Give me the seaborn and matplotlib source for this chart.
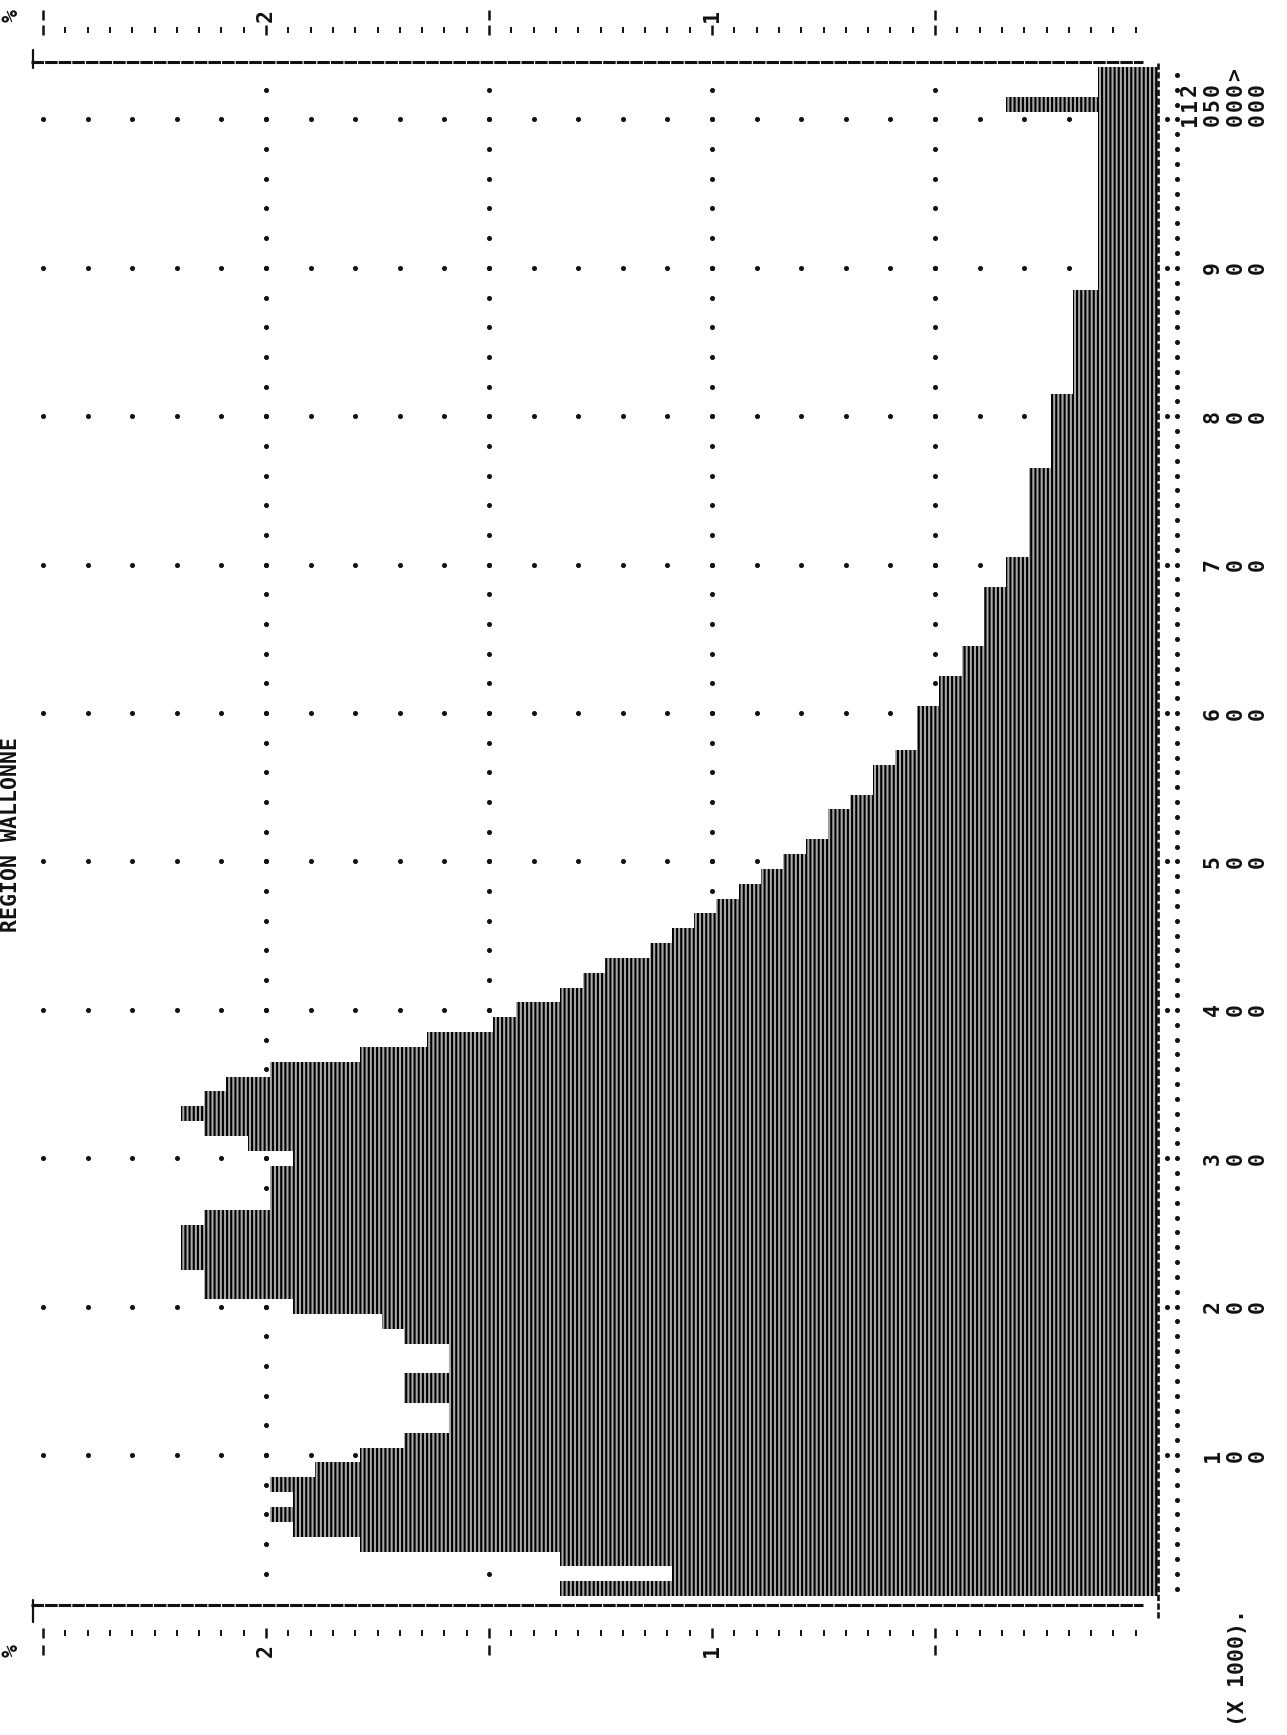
#!/usr/bin/env python3
"""
Line-printer style income histogram (Region Wallonne), rotated page.
Rows are income classes (x 1000), bars give the share in %.
"""

import numpy as np
import pandas as pd
import matplotlib
matplotlib.use("Agg")
import matplotlib.pyplot as plt
import seaborn as sns

# income classes, one printer line each (x 1000)
classes = [str(lo) for lo in range(0, 1000, 10)] + ["1000-1500", "1500-2000", ">2000"]

# share of each class in %
pct = [
    1.34, 1.09, 1.34, 1.79, 1.94, 1.99, 1.94, 1.99, 1.89, 1.79,   # 0-90
    1.69, 1.59, 1.59, 1.69, 1.69, 1.59, 1.59, 1.69, 1.74, 1.94,   # 100-190
    2.14, 2.14, 2.19, 2.19, 2.19, 2.14, 1.99, 1.99, 1.99, 1.94,   # 200-290
    2.04, 2.14, 2.19, 2.14, 2.09, 1.99, 1.79, 1.64, 1.49, 1.44,   # 300-390
    1.34, 1.29, 1.24, 1.14, 1.09, 1.04, 0.99, 0.94, 0.89, 0.84,   # 400-490
    0.79, 0.74, 0.74, 0.69, 0.64, 0.64, 0.59, 0.54, 0.54, 0.54,   # 500-590
    0.49, 0.49, 0.44, 0.44, 0.39, 0.39, 0.39, 0.39, 0.34, 0.34,   # 600-690
    0.29, 0.29, 0.29, 0.29, 0.29, 0.29, 0.24, 0.24, 0.24, 0.24,   # 700-790
    0.24, 0.19, 0.19, 0.19, 0.19, 0.19, 0.19, 0.19, 0.135, 0.135, # 800-890
    0.135, 0.135, 0.135, 0.135, 0.135, 0.135, 0.135, 0.135, 0.135, 0.135,  # 900-990
    0.34, 0.135, 0.135,                                            # 1000-1500, 1500-2000, >2000
]

# income axis labels and the printer line they sit on
income_ticks = [9, 19, 29, 39, 49, 59, 69, 79, 89, 99, 100, 101, 102]
income_labels = ["100", "200", "300", "400", "500", "600", "700", "800", "900",
                 "1000", "1500", "2000", "> "]   # trailing blank keeps ">" one column left

# percent axis
pct_major = [2.5, 2.0, 1.5, 1.0, 0.5]
pct_major_labels = ["%", "2", "|", "1", "|"]

title = "REGION WALLONNE"
unit_note = "(X 1000)."

# page geometry in pixels
W, H = 1287, 1735
X0_PX, PX_PER_PCT = 1158, 446.0       # 0 % position, px per %
Y0_PX, PX_PER_ROW = 1588.6, 14.84     # centre of first line, px per line


def dx(px):
    return (X0_PX - px) / PX_PER_PCT


def dy(py):
    return (Y0_PX - py) / PX_PER_ROW


sns.set_style("white")
plt.rcParams["font.family"] = ["DejaVu Sans Mono", "DejaVu Sans"]
plt.rcParams["hatch.linewidth"] = 1.5
plt.rcParams["hatch.color"] = "black"
plt.rcParams["lines.scale_dashes"] = False

fig = plt.figure(figsize=(W / 100, H / 100), dpi=100)
ax_l, ax_r, ax_t, ax_b = 29, X0_PX, 62, 1605
ax = fig.add_axes([ax_l / W, (H - ax_b) / H, (ax_r - ax_l) / W, (ax_b - ax_t) / H])

df = pd.DataFrame({"classe": classes, "pct": pct})
sns.barplot(data=df, x="pct", y="classe", orient="h", order=classes,
            width=1.0, color="#a9a9a9", saturation=1, edgecolor="black",
            linewidth=0, hatch="||||", errorbar=None, ax=ax, zorder=3)

ax.set_xlim(dx(ax_l), dx(ax_r))
ax.set_ylim(dy(ax_b), dy(ax_t))
ax.set_axis_off()

ink = "#111111"

# dotted grid: rows at income ticks, columns at each half percent
grid_x = np.arange(0.1, 2.51, 0.1)
for r in income_ticks[:10]:
    ax.plot(grid_x, [r] * len(grid_x), ls="none", marker="o", ms=2.6,
            color=ink, zorder=1)
col_y = np.arange(1, 102, 2)
for c in pct_major[1:]:
    ax.plot([c] * len(col_y), col_y, ls="none", marker="o", ms=2.6,
            color=ink, zorder=1)

# frame: heavy dashed lines top and bottom, dashed zero axis on the right
for py in (62, 1605):
    ax.plot([dx(31), dx(1143)], [dy(py)] * 2, color=ink, lw=2.2,
            dashes=(9, 0.8), clip_on=False, zorder=4)
for y_a, y_b in ((50, 68), (1600, 1622)):
    ax.plot([dx(33)] * 2, [dy(y_a), dy(y_b)], color=ink, lw=1.6,
            clip_on=False, zorder=4)
ax.plot([0, 0], [dy(1618), dy(61)], color=ink, lw=1.9, dashes=(4.5, 1.8),
        clip_on=False, zorder=4)

# income scale on the right: dotted line, double dots at labelled lines
rows_all = np.arange(len(classes))
ax.plot([dx(1177)] * len(rows_all), rows_all, ls="none", marker="o", ms=2.6,
        color=ink, clip_on=False)
ax.plot([dx(1167)] * 10, income_ticks[:10], ls="none", marker="o", ms=2.6,
        color=ink, clip_on=False)

txt = dict(rotation=90, ha="center", va="center", rotation_mode="anchor",
           fontsize=15.5, fontweight="bold", color=ink, clip_on=False)

for row, lab in zip(income_ticks, income_labels):
    n = len(lab)
    for k, ch in enumerate(lab):
        if ch.strip():
            ax.text(dx(1258 - (n - 1 - k) * 22.7), row, ch, **txt)

# percent scale, top and bottom of the page
minor = [m / 20 for m in range(1, 50) if m % 10 != 0]
for tick_py, lab_py in ((30, 15), (1633, 1650)):
    ax.plot(minor, [dy(tick_py)] * len(minor), ls="none", marker="|", ms=4.5,
            mew=1.4, color=ink, clip_on=False)
    ax.plot(pct_major, [dy(tick_py)] * len(pct_major), ls="none", marker="|",
            ms=7.5, mew=1.8, color=ink, clip_on=False)
    for p, lab in zip(pct_major, pct_major_labels):
        if lab == "|":
            ax.plot([p], [dy(lab_py)], marker="|", ms=7.5, mew=1.8, color=ink,
                    clip_on=False)
        elif lab == "%":
            ax.text(dx(12), dy(lab_py), lab, **txt)
            ax.plot([p], [dy(lab_py)], marker="|", ms=7.5, mew=1.8, color=ink,
                    clip_on=False)
        else:
            ax.text(p, dy(lab_py), lab, **txt)

# title along the left page edge, unit note bottom right
fig.text(11 / W, (H - 834) / H, title, rotation=90, ha="center", va="center",
         fontsize=15.5, fontweight="bold", color=ink)
fig.text(1238 / W, (H - 1667) / H, unit_note, rotation=90, ha="center",
         va="center", fontsize=15.5, fontweight="bold", color=ink)

fig.savefig("out.png", dpi=100, facecolor="white")
plt.close(fig)
